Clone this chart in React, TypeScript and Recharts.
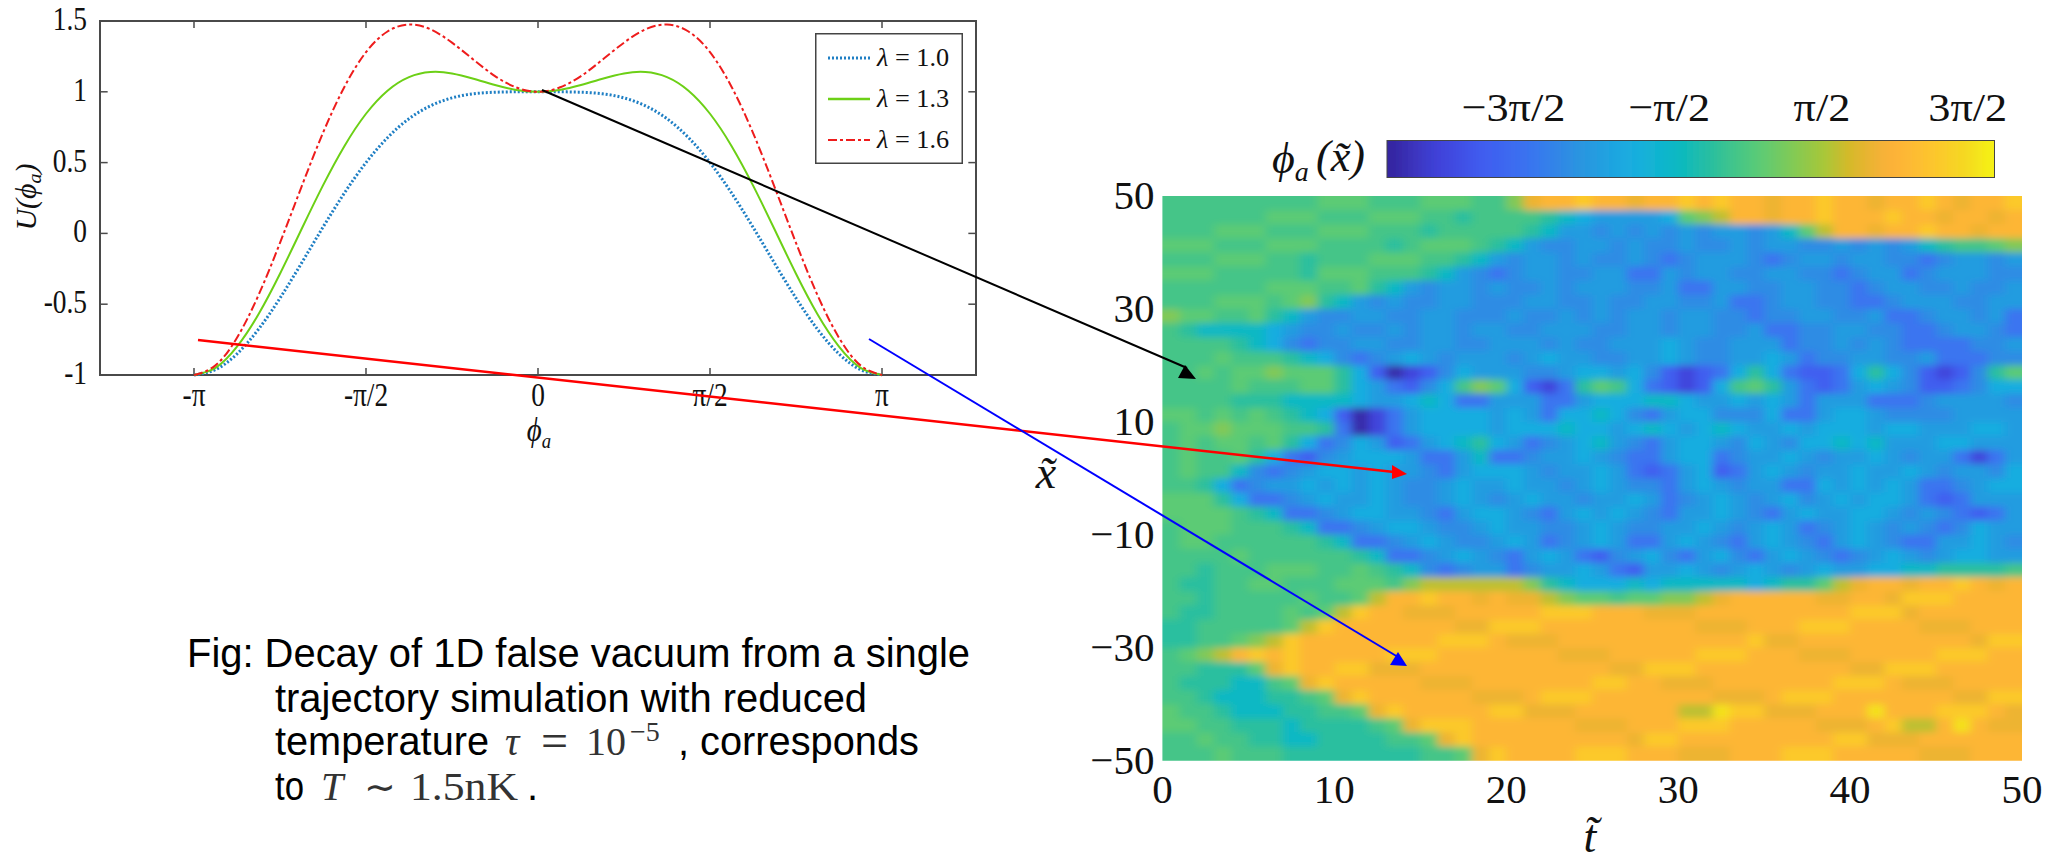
import {
    LineChart,
    Line,
    XAxis,
    YAxis,
    Legend,
    ScatterChart,
    Scatter,
    ReferenceArea,
    ReferenceLine,
} from "recharts";

// potential curves, phi from -pi to pi in steps of pi/16
const phiValues = [
    -3.1416, -2.9452, -2.7489, -2.5525, -2.3562, -2.1598, -1.9635, -1.7671, -1.5708, -1.3744, -1.1781,
    -0.9817, -0.7854, -0.589, -0.3927, -0.1963, 0, 0.1963, 0.3927, 0.589, 0.7854, 0.9817, 1.1781, 1.3744,
    1.5708, 1.7671, 1.9635, 2.1598, 2.3562, 2.5525, 2.7489, 2.9452, 3.1416,
];
const lambda10 = [
    -1, -0.962, -0.851, -0.677, -0.457, -0.21, 0.044, 0.286, 0.5, 0.676, 0.81, 0.901, 0.957, 0.986, 0.997, 1, 1,
    1, 0.997, 0.986, 0.957, 0.901, 0.81, 0.676, 0.5, 0.286, 0.044, -0.21, -0.457, -0.677, -0.851, -0.962, -1,
];
const lambda13 = [
    -1, -0.949, -0.8, -0.571, -0.285, 0.029, 0.339, 0.618, 0.845, 1.008, 1.104, 1.14, 1.13, 1.092, 1.048, 1.013, 1,
    1.013, 1.048, 1.092, 1.13, 1.14, 1.104, 1.008, 0.845, 0.618, 0.339, 0.029, -0.285, -0.571, -0.8, -0.949, -1,
];
const lambda16 = [
    -1, -0.932, -0.737, -0.436, -0.067, 0.329, 0.71, 1.036, 1.28, 1.426, 1.475, 1.441, 1.347, 1.227, 1.111, 1.03, 1,
    1.03, 1.111, 1.227, 1.347, 1.441, 1.475, 1.426, 1.28, 1.036, 0.71, 0.329, -0.067, -0.436, -0.737, -0.932, -1,
];
const potentialTicksX = [-3.1416, -1.5708, 0, 1.5708, 3.1416];
const potentialTickLabelsX = ["-π", "-π/2", "0", "π/2", "π"];
const potentialTicksY = [-1, -0.5, 0, 0.5, 1, 1.5];
const potentialTickLabelsY = ["-1", "-0.5", "0", "0.5", "1", "1.5"];

// colour scale, phi in units of pi
const colorStopValues = [-2.48, -2.15, -1.83, -1.5, -1.17, -0.79, -0.5, -0.22, 0.08, 0.51, 0.7, 0.97, 1.27, 1.52, 1.68];
const colorStopHex = [
    "#35239a", "#4040d8", "#3f5cf0", "#3a74f0", "#2a94e0", "#18aee0", "#08b8c4", "#30c09a",
    "#5ccb74", "#a6c83a", "#d8b82a", "#fdb03a", "#fdc62c", "#f4dc20", "#f5f510",
];
const colorbarValues = [
    -2.44, -2.36, -2.28, -2.2, -2.12, -2.04, -1.96, -1.88, -1.8, -1.72, -1.64, -1.56, -1.48, -1.4, -1.32, -1.24,
    -1.16, -1.08, -1, -0.92, -0.84, -0.76, -0.68, -0.6, -0.52, -0.44, -0.36, -0.28, -0.2, -0.12, -0.04, 0.04, 0.12,
    0.2, 0.28, 0.36, 0.44, 0.52, 0.6, 0.68, 0.76, 0.84, 0.92, 1, 1.08, 1.16, 1.24, 1.32, 1.4, 1.48, 1.56, 1.64,
];
const colorbarTicks = [-1.5, -0.5, 0.5, 1.5];
const colorbarTickLabels = ["−3π/2", "−π/2", "π/2", "3π/2"];

// heat map readings: one letter per cell, looked up in heatLevels (phi in units of pi)
const heatLevels: Record<string, number> = {
    a: -2.4, b: -2.1, c: -1.8, d: -1.5, e: -1.25, f: -1.05, g: -0.8, h: -0.5, i: -0.25,
    j: -0.08, k: 0.08, l: 0.3, m: 0.6, n: 0.85, o: 1.05, p: 1.3, q: 1.55,
};
const heatRows = [
    "jjjjjjjjjk kkjjjkkkjj lnoopoonoo popoonoopo onooponoop",
    "jjjjjjkkkj jjkkkjjijj jjihgffffg klmoonoopo oopoonoono",
    "jjjkkkjjjk kkjjjijjjj jihffefefe feffefhkmo onoopoonoo",
    "kkkjjjkkkj jjjijkkkji hfeeffefee feefeffeef efefhijjkl",
    "jjjkkkjjij jjkkkjjihf effefeefed efffedeffe ffeedeffef",
    "kkkjjjjjik kkjjjihfed effeeffddf effeeffeed effdefffee",
    "jjjjjjkkkj jkihfeffef eefefffeef ddffeeffee deffeefeef",
    "jjjkkkjkli hfefeeffee effeefeeff eefddeffee ddefffeeff",
    "lkkjjkihfe effeeffeee feefefeffe ffeedeeffe efddeffefd",
    "jihhhhgfee feefeffeff eefffeeffe ffeefddeef feeddeffed",
    "jjjjihgede effeeffeef ffefeefffg feefffdeef efeddddeef",
    "jjjkjjjihg edefgfefff efgffeeffg feeffgfdee ffeefdddee",
    "jjkjkklkkk igcabcegff feefggfgec bcdgigdccd gigecbceik",
    "jjjjkjjjkk igfdcegjlk gcbdikjgdc bcgjkifdcd fgfeccdegg",
    "jjjjiiihhh hgffghgddf ffddfggghh gffgfgfdff fdddeffffe",
    "kkjkjkjihg cabdfggggf gfdgghgedf ggeeegddfg gfeeeeffff",
    "jkklkkkjji dabdfggggf ggghggfghg fghgffgfgg gfggfffggf",
    "jkjkkjkigd egfcdfghig fdefghfedf ggfegfeggh ghfffggfff",
    "jkjjkigdce fgggfddfhd deffgfeddf ggdeffgfef fgfeffdbdf",
    "jkjjhedefg gfgffedfgg gfeffgfdcd fgcdfgfeff gffgfeffeg",
    "jjigdeffgf gfgfeefgff gffefgfeed fgfeffddgf gfgfddefgg",
    "kkkigddefg ffgfeefgfe fgffeffgfd efgfefgefg fggfdcdfff",
    "kkkkjihdde fggffedfgg fedfgfgfed ffgfedfgff ggfefedcdf",
    "jkkkjjjihd defggfeefg ffeefgfeef fgfefgfdef gfefedegff",
    "jkkjjjjjji hddefgfeef gfdefgfddf gfedfgfedf gfeddffgfe",
    "jjjjkjjjjj jihddefgfe dfgfdcefge dfgedfgfed efgfefggff",
    "jjijjjkkkj jkjihedeff deffgfdcff gfefgfefgf fgghhiiiij",
    "jiijjkkjjj kkkjlmmmmm mlihggghgh hhhhghiikm noonoopono",
    "jjijjjjjkj jkmoopoono nnmlkkjkkl lmnooooonn oonpppoooo",
    "jiijjjjkjk mpoonnnooo oopppooonn nooooooooo pppnoooooo",
    "iijjjjjkmp ooooooonnp ppoooooooo onnnoooppp oooonnnooo",
    "iijjklmpoo oooooopppo nnnooooooo oooopnnooo ooooooonpp",
    "jklmopopoo ooopppoooo ooonnnoooo opppooonnn ooooopppoo",
    "jjiiiknpoo ppnnnooooo oooooonnpp pooooooooo nnpppooooo",
    "jiiihhjknp ooooonnnoo oooooppoon nnooooooop pponnnoooo",
    "jjihhhiijk npoooooonn nopppooooo oonnnopppo oooooonnpp",
    "kjjihhhiij jknpooooop pnnnoooooo mmqppnnnoo oqooopppon",
    "kkjjiiihii iijknpppoo oooonnnooo pppooooonn nopmmoqonn",
    "jjkjjiihhi iiijjknpoo ooooooonpp ooooooooop pnnnoooooo",
    "jjjkjjjiii iiiiijjknp oooopppooo nnnooopppo oooonnnooo",
];
const heatTicksT = [0, 10, 20, 30, 40, 50];
const heatTicksX = [-50, -30, -10, 10, 30, 50];

const potentialData = phiValues.map((phi, i) => ({
    phi,
    l10: lambda10[i],
    l13: lambda13[i],
    l16: lambda16[i],
}));

const heatCols = 50;
const heatCells = heatRows.flatMap((row, r) =>
    row.replace(/ /g, "").split("").map((ch, c) => ({
        t: c + 0.5,
        pos: 48.75 - r * 2.5,
        value: heatLevels[ch],
        col: c,
        row: r,
    })),
);
const colorbarCells = colorbarValues.map((value, i) => ({ value, y: 0.5, index: i }));

const hexToRgb = (hex: string) => [
    parseInt(hex.slice(1, 3), 16),
    parseInt(hex.slice(3, 5), 16),
    parseInt(hex.slice(5, 7), 16),
];

const colorFor = (value: number) => {
    let i = 0;
    while (i < colorStopValues.length - 2 && value > colorStopValues[i + 1]) i++;
    const f = Math.min(1, Math.max(0, (value - colorStopValues[i]) / (colorStopValues[i + 1] - colorStopValues[i])));
    const a = hexToRgb(colorStopHex[i]);
    const b = hexToRgb(colorStopHex[i + 1]);
    return `rgb(${a.map((v, k) => Math.round(v + (b[k] - v) * f)).join(",")})`;
};

const SERIF = "'Liberation Serif', serif";
const SANS = "'Liberation Sans', sans-serif";

const HEAT = { left: 1020, top: 160, width: 1029, height: 701, plotLeft: 142.4, plotTop: 36, plotW: 859.6, plotH: 564.7 };
const BAR = { left: 1370, top: 75, width: 640, height: 110, plotLeft: 17.5, plotTop: 66, plotW: 606.5, plotH: 36 };

const blurStyles = `
.heat-layer { filter: url(#heatBlur); clip-path: url(#heatClip); }
.bar-layer { filter: url(#barBlur); clip-path: url(#barClip); }
`;

const HeatCell = (props: any) => {
    const { cx, cy, payload } = props;
    const w = HEAT.plotW / heatCols;
    const h = HEAT.plotH / heatRows.length;
    // edge cells run past the plot so the blur does not fade at the border
    const left = payload.col === 0 ? 30 : 0;
    const right = payload.col === heatCols - 1 ? 30 : 0;
    const top = payload.row === 0 ? 30 : 0;
    const bottom = payload.row === heatRows.length - 1 ? 30 : 0;
    return (
        <rect
            x={cx - w / 2 - left}
            y={cy - h / 2 - top}
            width={w + 0.8 + left + right}
            height={h + 0.8 + top + bottom}
            fill={colorFor(payload.value)}
        />
    );
};

const BarCell = (props: any) => {
    const { cx, cy, payload } = props;
    const left = payload.index === 0 ? 20 : 0;
    const right = payload.index === colorbarValues.length - 1 ? 20 : 0;
    return <rect x={cx - 6.2 - left} y={cy - 30} width={12.4 + left + right} height={60} fill={colorFor(payload.value)} />;
};

const squeezedTick = (labels: (v: number) => string, size: number, sx: number, anchor: string, dy: number, dx = 0) =>
    (props: any) => (
        <text
            transform={`translate(${props.x + dx},${props.y + dy}) scale(${sx},1)`}
            textAnchor={anchor}
            fontFamily={SERIF}
            fontSize={size}
            fill="#111"
        >
            {labels(props.payload.value)}
        </text>
    );

const potentialLabelX = (v: number) => potentialTickLabelsX[potentialTicksX.indexOf(v)];
const potentialLabelY = (v: number) => potentialTickLabelsY[potentialTicksY.indexOf(v)];
const colorbarLabel = (v: number) => colorbarTickLabels[colorbarTicks.indexOf(v)];
const minusLabel = (v: number) => String(v).replace("-", "−");

const legendStyles = [
    { color: "#1f7fc4", dash: "2 2", width: 3, label: "1.0" },
    { color: "#6cd016", dash: undefined, width: 2.5, label: "1.3" },
    { color: "#ee1c1c", dash: "9 3 3 3", width: 2, label: "1.6" },
];

const PotentialLegend = () => (
    <svg width={148} height={131} style={{ display: "block" }}>
        <rect x={0.75} y={0.75} width={146.5} height={129.5} fill="#fff" stroke="#444" strokeWidth={1.5} />
        {legendStyles.map((s, i) => (
            <g key={s.label}>
                <line x1={13} x2={55} y1={25 + i * 41} y2={25 + i * 41} stroke={s.color} strokeWidth={s.width} strokeDasharray={s.dash} />
                <text transform={`translate(62,${33 + i * 41}) scale(1.05,1)`} fontFamily={SERIF} fontSize={25} fill="#111">
                    <tspan fontStyle="italic">λ</tspan> = {s.label}
                </text>
            </g>
        ))}
    </svg>
);

const PotentialChart = () => (
    <div style={{ position: "absolute", left: 0, top: 0 }}>
        <LineChart width={1000} height={470} data={potentialData} margin={{ top: 21, right: 24, left: 0, bottom: 0 }}>
            <XAxis
                dataKey="phi"
                type="number"
                domain={[-4, 4]}
                ticks={potentialTicksX}
                height={95}
                axisLine={false}
                tickLine={false}
                tickMargin={0}
                tick={squeezedTick(potentialLabelX, 33, 0.83, "middle", 25)}
            />
            <YAxis
                type="number"
                domain={[-1, 1.5]}
                ticks={potentialTicksY}
                width={100}
                axisLine={false}
                tickLine={false}
                tickMargin={7}
                tick={squeezedTick(potentialLabelY, 33, 0.83, "end", 9)}
            />
            <Legend
                layout="horizontal"
                verticalAlign="middle"
                align="center"
                wrapperStyle={{ left: 815, top: 33, width: 148, height: 131 }}
                content={() => <PotentialLegend />}
            />
            {/* frame and inward ticks on all four sides */}
            <ReferenceArea x1={-4} x2={4} y1={-1} y2={1.5} fill="none" stroke="#4a4a4a" strokeWidth={2} />
            {potentialTicksX.map((v) => (
                <ReferenceLine key={`b${v}`} segment={[{ x: v, y: -1 }, { x: v, y: -0.95 }]} stroke="#4a4a4a" strokeWidth={1.5} />
            ))}
            {potentialTicksX.map((v) => (
                <ReferenceLine key={`t${v}`} segment={[{ x: v, y: 1.45 }, { x: v, y: 1.5 }]} stroke="#4a4a4a" strokeWidth={1.5} />
            ))}
            {potentialTicksY.map((v) => (
                <ReferenceLine key={`l${v}`} segment={[{ x: -4, y: v }, { x: -3.93, y: v }]} stroke="#4a4a4a" strokeWidth={1.5} />
            ))}
            {potentialTicksY.map((v) => (
                <ReferenceLine key={`r${v}`} segment={[{ x: 3.93, y: v }, { x: 4, y: v }]} stroke="#4a4a4a" strokeWidth={1.5} />
            ))}
            <Line dataKey="l10" name="λ = 1.0" type="natural" stroke="#1f7fc4" strokeWidth={3} strokeDasharray="2 2" dot={false} isAnimationActive={false} />
            <Line dataKey="l13" name="λ = 1.3" type="natural" stroke="#6cd016" strokeWidth={2} dot={false} isAnimationActive={false} />
            <Line dataKey="l16" name="λ = 1.6" type="natural" stroke="#ee1c1c" strokeWidth={2} strokeDasharray="9 3 3 3" dot={false} isAnimationActive={false} />
            <text transform="translate(539,441) scale(0.85,1)" textAnchor="middle" fontFamily={SERIF} fontSize={34} fontStyle="italic" fill="#111">
                ϕ<tspan fontSize={22} dy={7}>a</tspan>
            </text>
            <text transform="translate(36,197) rotate(-90) scale(1,0.95)" textAnchor="middle" fontFamily={SERIF} fontSize={30} fontStyle="italic" fill="#111">
                U(ϕ<tspan fontSize={20} dy={5}>a</tspan><tspan dy={-5}>)</tspan>
            </text>
        </LineChart>
    </div>
);

const HeatChart = () => (
    <div style={{ position: "absolute", left: HEAT.left, top: HEAT.top }}>
        <ScatterChart
            width={HEAT.width}
            height={HEAT.height}
            margin={{ top: HEAT.plotTop, right: HEAT.width - HEAT.plotLeft - HEAT.plotW, left: 0, bottom: 0 }}
        >
            <defs>
                <clipPath id="heatClip">
                    <rect x={HEAT.plotLeft} y={HEAT.plotTop} width={HEAT.plotW} height={HEAT.plotH} />
                </clipPath>
                <filter id="heatBlur" filterUnits="userSpaceOnUse" x={80} y={-20} width={960} height={680}>
                    <feGaussianBlur stdDeviation="5 3.5" />
                </filter>
            </defs>
            <XAxis
                dataKey="t"
                type="number"
                domain={[0, 50]}
                ticks={heatTicksT}
                height={HEAT.height - HEAT.plotTop - HEAT.plotH}
                axisLine={false}
                tickLine={false}
                tick={squeezedTick(minusLabel, 41, 1, "middle", 34)}
            />
            <YAxis
                dataKey="pos"
                type="number"
                domain={[-50, 50]}
                ticks={heatTicksX}
                width={HEAT.plotLeft}
                axisLine={false}
                tickLine={false}
                tick={squeezedTick(minusLabel, 41, 1, "end", 13)}
            />
            <Scatter data={heatCells} shape={HeatCell} className="heat-layer" isAnimationActive={false} />
            <text x={570} y={692} textAnchor="middle" fontFamily={SERIF} fontSize={46} fontStyle="italic" fill="#111">t̃</text>
            <text x={26} y={328} textAnchor="middle" fontFamily={SERIF} fontSize={46} fontStyle="italic" fill="#111">x̃</text>
        </ScatterChart>
    </div>
);

const ColorbarChart = () => (
    <div style={{ position: "absolute", left: BAR.left, top: BAR.top }}>
        <ScatterChart
            width={BAR.width}
            height={BAR.height}
            margin={{ top: 0, right: BAR.width - BAR.plotLeft - BAR.plotW, left: BAR.plotLeft, bottom: BAR.height - BAR.plotTop - BAR.plotH }}
        >
            <defs>
                <clipPath id="barClip">
                    <rect x={BAR.plotLeft} y={BAR.plotTop} width={BAR.plotW} height={BAR.plotH} />
                </clipPath>
                <filter id="barBlur" filterUnits="userSpaceOnUse" x={-20} y={0} width={680} height={BAR.height}>
                    <feGaussianBlur stdDeviation="5 0" />
                </filter>
            </defs>
            <XAxis
                dataKey="value"
                type="number"
                orientation="top"
                domain={[-2.48, 1.68]}
                ticks={colorbarTicks}
                height={BAR.plotTop}
                axisLine={false}
                tickLine={false}
                tickMargin={0}
                tick={(props: any) => {
                    const label = colorbarLabel(props.payload.value);
                    const dx = label.startsWith("−3") ? -17 : label.startsWith("−") ? -7 : 0;
                    return squeezedTick(colorbarLabel, 41, 1.08, "middle", -14, dx)(props);
                }}
            />
            <YAxis dataKey="y" type="number" domain={[0, 1]} hide />
            <Scatter data={colorbarCells} shape={BarCell} className="bar-layer" isAnimationActive={false} />
            <ReferenceArea x1={-2.48} x2={1.68} y1={0} y2={1} fill="none" stroke="#444" strokeWidth={2} ifOverflow="visible" />
            {colorbarTicks.map((v) => (
                <ReferenceLine key={v} segment={[{ x: v, y: 0.72 }, { x: v, y: 1 }]} stroke="#333" strokeWidth={1.5} />
            ))}
        </ScatterChart>
    </div>
);

const arrowLines = [
    { color: "#000", width: 2, from: [542, 90], to: [1187, 368], head: "1178,378 1196,379 1185,365" },
    { color: "#f00", width: 2.5, from: [198, 340], to: [1394, 472], head: "1392,465 1407,474 1392,479" },
    { color: "#00f", width: 2, from: [869, 339], to: [1398, 657], head: "1390,665 1407,666 1398,652" },
];

const Overlay = () => (
    <svg width={2049} height={861} style={{ position: "absolute", left: 0, top: 0, pointerEvents: "none" }}>
        {arrowLines.map((a) => (
            <g key={a.color}>
                <line x1={a.from[0]} y1={a.from[1]} x2={a.to[0]} y2={a.to[1]} stroke={a.color} strokeWidth={a.width} />
                <polygon points={a.head} fill={a.color} />
            </g>
        ))}
        <g fontFamily={SERIF} fontSize={44} fill="#111">
            <text x={1272} y={173} fontStyle="italic">ϕ<tspan fontSize={28} dy={8}>a</tspan></text>
            <text x={1316} y={171} fontStyle="italic">(x̃)</text>
        </g>
        <g fontFamily={SANS} fontSize={40} fill="#000">
            <text x={187} y={667} textLength={783} lengthAdjust="spacingAndGlyphs">Fig: Decay of 1D false vacuum from a single</text>
            <text x={275} y={712} textLength={592} lengthAdjust="spacingAndGlyphs">trajectory simulation with reduced</text>
            <text x={275} y={755} textLength={214} lengthAdjust="spacingAndGlyphs">temperature</text>
            <text x={678} y={755} textLength={241} lengthAdjust="spacingAndGlyphs">, corresponds</text>
            <text x={275} y={800} textLength={29} lengthAdjust="spacingAndGlyphs">to</text>
            <text x={527} y={800}>.</text>
        </g>
        <g fontFamily={SERIF} fontSize={40} fill="#333">
            <text x={505} y={755} fontStyle="italic">τ</text>
            <text x={541} y={757} fontSize={48}>=</text>
            <text x={586} y={755}>10</text>
            <text x={630} y={741} fontSize={28}>−5</text>
            <text x={321} y={800} fontStyle="italic">T</text>
            <text x={364} y={800} fontSize={38}>∼</text>
            <text x={410} y={800} textLength={108} lengthAdjust="spacingAndGlyphs">1.5nK</text>
        </g>
    </svg>
);

const App = () => {
    return (
        <div style={{ position: "fixed", left: 0, top: 0, width: 2049, height: 861, background: "#fff", overflow: "hidden" }}>
            <style>{blurStyles}</style>
            <PotentialChart />
            <ColorbarChart />
            <HeatChart />
            <Overlay />
        </div>
    );
};

export default App;
